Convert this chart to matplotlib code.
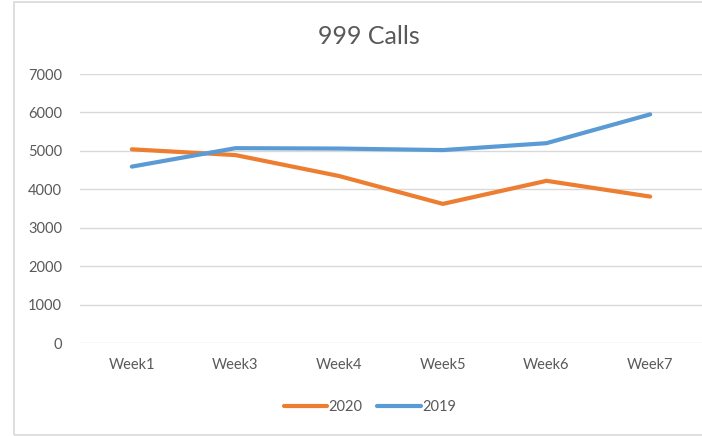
import matplotlib
matplotlib.use("Agg")
import matplotlib.pyplot as plt
from matplotlib.patches import Rectangle

weeks = ["Week1", "Week3", "Week4", "Week5", "Week6", "Week7"]
calls_2020 = [5040, 4890, 4345, 3620, 4220, 3810]
calls_2019 = [4590, 5070, 5060, 5020, 5200, 5950]

plt.rcParams['font.family'] = ['Lato', 'DejaVu Sans']
txt = "#595959"
grid = "#D9D9D9"

fig = plt.figure(figsize=(7.02, 4.36), dpi=100)
ax = fig.add_axes([80/702, 93/436, 622/702, 269/436])

x = range(len(weeks))
ax.plot(x, calls_2020, color="#ED7D31", lw=3, solid_capstyle="round", label="2020")
ax.plot(x, calls_2019, color="#5B9BD5", lw=3, solid_capstyle="round", label="2019")

ax.set_xlim(-0.5, len(weeks) - 0.5)
ax.set_ylim(0, 7000)
ax.set_yticks(range(0, 7001, 1000))
ax.set_xticks(list(x))
ax.set_xticklabels(weeks)
ax.yaxis.grid(True, color=grid, lw=1)
ax.set_axisbelow(True)
for s in ax.spines.values():
    s.set_visible(False)
ax.tick_params(axis="both", length=0, colors=txt, labelsize=10.5)
ax.tick_params(axis="y", pad=13)
ax.tick_params(axis="x", pad=11)

fig.text(369/702, 1 - 36/436, "999 Calls", ha="center", va="center", fontsize=18, color=txt)

fig.legend(loc="center", bbox_to_anchor=(370/702, 1 - 407/436), ncol=2, frameon=False,
           fontsize=10.5, handlelength=3.0, handletextpad=0.1, columnspacing=1.0,
           labelcolor=txt)

# chart frame
fig.patches.append(Rectangle((14/702, 1/436), 1.0, 433/436, transform=fig.transFigure,
                             fill=False, edgecolor=grid, lw=1.2))

fig.savefig("out.png", dpi=100)
